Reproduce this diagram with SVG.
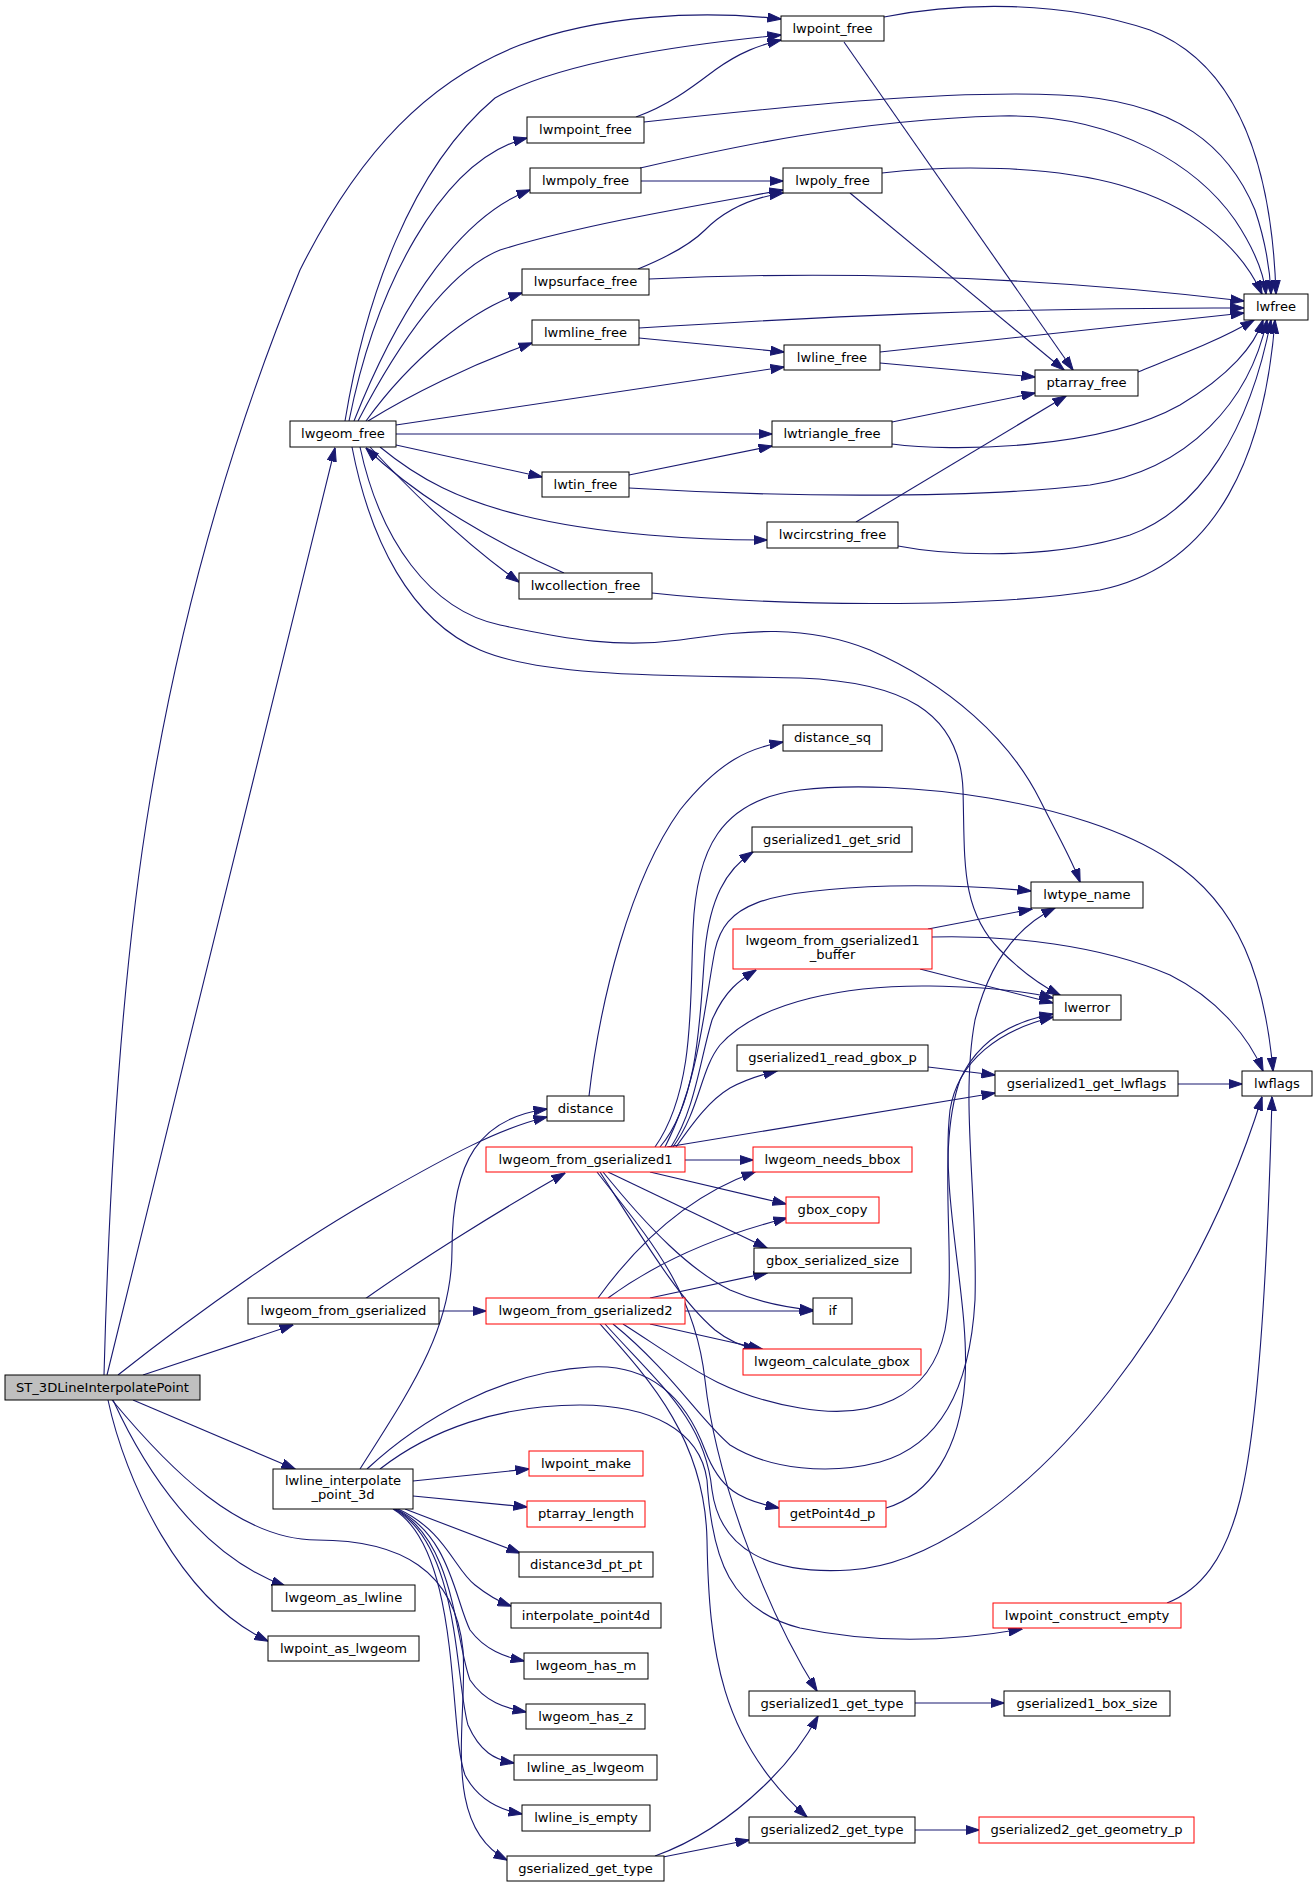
<svg xmlns="http://www.w3.org/2000/svg" width="1316" height="1887" viewBox="0 0 1316 1887">
<style>
.n rect{fill:#fff;stroke:#000;stroke-width:1}
.n.red rect{stroke:#ff0000}
.n.root rect{fill:#bfbfbf}
.n text{font-family:"DejaVu Sans","Liberation Sans",sans-serif;font-size:13.1px;text-anchor:middle;fill:#000}
#edges path{fill:none;stroke:#191970;stroke-width:1.1;marker-end:url(#arr)}
</style>
<defs>
<marker id="arr" markerUnits="userSpaceOnUse" markerWidth="14" markerHeight="10" viewBox="0 0 14 10" refX="13.5" refY="5" orient="auto">
<path d="M0,0.4 L14,5 L0,9.6 z" fill="#191970" stroke="#191970" stroke-width="1"/>
</marker>
</defs>
<rect width="1316" height="1887" fill="#fff"/>
<g id="edges">
<path d="M104,1375 C110,1150 125,950 150,800 C180,620 230,440 300,270 C360,150 430,80 520,45 C600,15 700,10 781,19"/>
<path d="M107,1375 C150,1200 290,630 335,448"/>
<path d="M118,1375 C200,1310 300,1240 380,1195 C450,1155 500,1128 547,1117"/>
<path d="M143,1375 L293,1325"/>
<path d="M133,1400 L295,1469"/>
<path d="M113,1400 C145,1470 200,1555 285,1586"/>
<path d="M108,1400 C125,1480 180,1600 268,1641"/>
<path d="M112,1400 C170,1470 240,1540 317,1540 C400,1540 455,1570 463,1650 C468,1720 440,1825 507,1860"/>
<path d="M365,1299 C420,1260 500,1210 565,1173"/>
<path d="M439,1311 L486,1311"/>
<path d="M360,1469 C410,1390 452,1330 452,1250 C452,1160 480,1118 547,1109"/>
<path d="M413,1481 L529,1469"/>
<path d="M413,1496 L527,1507"/>
<path d="M405,1509 L520,1553"/>
<path d="M398,1509 C445,1530 455,1570 475,1585 C490,1597 500,1602 511,1606"/>
<path d="M396,1509 C450,1535 455,1600 470,1630 C485,1650 505,1657 524,1661"/>
<path d="M395,1509 C455,1540 455,1640 470,1680 C485,1702 505,1708 526,1712"/>
<path d="M394,1509 C460,1545 455,1680 468,1725 C480,1752 495,1760 514,1763"/>
<path d="M393,1509 C462,1550 448,1730 465,1775 C478,1800 500,1810 522,1814"/>
<path d="M367,1469 C420,1420 500,1372 590,1367 C660,1363 690,1410 705,1450 C720,1490 740,1500 779,1508"/>
<path d="M380,1469 C430,1430 500,1405 580,1405 C650,1405 700,1430 707,1480 C712,1560 730,1610 800,1628 C880,1645 960,1640 1022,1629"/>
<path d="M345,421 C365,300 410,170 495,98 C560,62 680,45 781,35"/>
<path d="M349,421 C375,290 440,160 527,138"/>
<path d="M354,421 C390,330 450,220 530,190"/>
<path d="M358,421 C400,340 450,270 500,250 C580,225 700,205 783,190"/>
<path d="M366,421 C410,360 470,310 522,293"/>
<path d="M368,421 C410,395 470,365 532,343"/>
<path d="M396,425 L784,367"/>
<path d="M396,434 L772,434"/>
<path d="M396,445 L542,477"/>
<path d="M380,447 C420,480 460,500 520,515 C600,535 700,540 767,540"/>
<path d="M370,447 C410,490 460,540 519,582"/>
<path d="M564,573 C500,545 420,500 366,448"/>
<path d="M360,447 C380,540 430,610 500,625 C570,640 620,648 680,640 C740,632 800,622 870,650 C950,685 1010,740 1040,800 C1060,840 1072,860 1080,882"/>
<path d="M352,447 C370,540 410,620 480,650 C550,680 700,675 800,678 C900,682 960,710 963,790 C965,860 960,910 1000,950 C1020,970 1040,985 1060,995"/>
<path d="M636,117 C670,105 695,85 715,70 C740,52 760,45 781,40"/>
<path d="M644,122 C800,105 950,90 1060,95 C1180,100 1230,150 1255,210 C1265,240 1270,270 1271,294"/>
<path d="M884,17 C960,2 1060,0 1150,30 C1240,65 1272,170 1276,294"/>
<path d="M844,42 L1073,370"/>
<path d="M641,181 L783,181"/>
<path d="M640,168 C720,150 850,120 1000,116 C1120,113 1200,170 1235,220 C1255,250 1264,275 1266,294"/>
<path d="M882,173 C950,165 1050,165 1120,185 C1190,205 1240,245 1262,294"/>
<path d="M850,193 L1064,370"/>
<path d="M638,269 C665,258 690,245 705,230 C725,210 750,198 783,193"/>
<path d="M649,279 C800,272 1000,272 1244,301"/>
<path d="M639,328 C800,318 1000,307 1244,308"/>
<path d="M639,338 L784,352"/>
<path d="M880,352 L1244,313"/>
<path d="M880,363 L1035,377"/>
<path d="M1138,372 C1180,355 1220,340 1254,320"/>
<path d="M892,422 L1035,393"/>
<path d="M892,444 C950,452 1100,450 1180,405 C1230,375 1255,345 1263,320"/>
<path d="M629,475 L772,446"/>
<path d="M629,488 C760,496 960,500 1090,485 C1190,470 1250,400 1267,320"/>
<path d="M856,522 L1066,396"/>
<path d="M898,546 C950,556 1050,560 1130,535 C1200,510 1250,430 1271,320"/>
<path d="M652,593 C760,605 980,610 1100,590 C1220,565 1265,450 1275,320"/>
<path d="M589,1096 C600,1000 630,880 680,810 C720,760 750,748 783,742"/>
<path d="M928,929 L1032,909"/>
<path d="M932,937 C1010,935 1100,945 1170,975 C1220,1000 1250,1040 1263,1071"/>
<path d="M920,969 L1053,1003"/>
<path d="M928,1067 L995,1075"/>
<path d="M1178,1084 L1242,1084"/>
<path d="M660,1147 C700,1100 700,1010 705,950 C710,900 725,870 753,852"/>
<path d="M665,1147 C700,1080 705,1000 715,950 C725,905 760,890 890,886 C950,885 1000,888 1031,891"/>
<path d="M655,1147 C695,1090 690,1000 693,930 C696,850 720,800 800,790 C900,778 1080,800 1170,860 C1240,905 1265,980 1273,1071"/>
<path d="M671,1147 C695,1110 700,1060 712,1020 C725,990 740,980 756,970"/>
<path d="M673,1147 C700,1110 700,1070 720,1045 C760,1000 850,985 930,986 C990,987 1030,992 1053,998"/>
<path d="M676,1147 C695,1120 710,1100 730,1088 C745,1080 760,1075 777,1071"/>
<path d="M667,1147 L995,1093"/>
<path d="M685,1160 L753,1160"/>
<path d="M650,1172 L786,1204"/>
<path d="M608,1172 L767,1248"/>
<path d="M603,1172 C650,1230 690,1270 730,1290 C760,1303 790,1308 813,1310"/>
<path d="M600,1172 C650,1250 680,1300 715,1330 C730,1342 745,1347 757,1349"/>
<path d="M597,1172 C650,1240 695,1290 705,1380 C715,1470 760,1600 817,1691"/>
<path d="M598,1298 C640,1240 690,1195 755,1172"/>
<path d="M608,1298 C660,1260 720,1235 787,1218"/>
<path d="M650,1298 L767,1273"/>
<path d="M685,1311 L813,1311"/>
<path d="M650,1324 L762,1349"/>
<path d="M600,1324 C650,1380 705,1440 707,1540 C709,1650 720,1740 807,1817"/>
<path d="M605,1324 C660,1385 705,1420 712,1490 C720,1550 770,1575 850,1570 C940,1565 1040,1480 1110,1390 C1180,1300 1230,1200 1262,1097"/>
<path d="M623,1324 C680,1360 720,1395 800,1408 C870,1420 930,1400 945,1330 C958,1260 935,1150 960,1080 C980,1035 1020,1020 1053,1014"/>
<path d="M613,1324 C670,1370 700,1420 730,1445 C770,1470 830,1475 880,1462 C940,1445 970,1390 975,1300 C978,1200 960,1100 975,1020 C990,960 1020,925 1055,908"/>
<path d="M886,1508 C930,1495 960,1450 965,1380 C970,1300 940,1200 950,1110 C958,1060 1000,1030 1053,1017"/>
<path d="M1167,1603 C1200,1590 1225,1560 1240,1500 C1260,1420 1268,1250 1272,1097"/>
<path d="M655,1856 C700,1840 740,1810 770,1780 C790,1760 805,1740 818,1716"/>
<path d="M663,1857 L749,1840"/>
<path d="M915,1703 L1004,1703"/>
<path d="M915,1830 L979,1830"/>
</g>
<g id="ST_3DLineInterpolatePoint" class="n root"><rect x="5" y="1375" width="195" height="25"/><text x="102.5" y="1392">ST_3DLineInterpolatePoint</text></g>
<g id="lwgeom_free" class="n"><rect x="290" y="421" width="106" height="26"/><text x="343" y="438">lwgeom_free</text></g>
<g id="lwpoint_free" class="n"><rect x="781" y="16" width="103" height="25"/><text x="832.5" y="33">lwpoint_free</text></g>
<g id="lwmpoint_free" class="n"><rect x="527" y="117" width="117" height="26"/><text x="585.5" y="134">lwmpoint_free</text></g>
<g id="lwmpoly_free" class="n"><rect x="530" y="168" width="111" height="25"/><text x="585.5" y="185">lwmpoly_free</text></g>
<g id="lwpoly_free" class="n"><rect x="783" y="168" width="99" height="25"/><text x="832.5" y="185">lwpoly_free</text></g>
<g id="lwpsurface_free" class="n"><rect x="522" y="269" width="127" height="26"/><text x="585.5" y="286">lwpsurface_free</text></g>
<g id="lwmline_free" class="n"><rect x="532" y="320" width="107" height="25"/><text x="585.5" y="337">lwmline_free</text></g>
<g id="lwfree" class="n"><rect x="1244" y="294" width="64" height="26"/><text x="1276" y="311">lwfree</text></g>
<g id="lwline_free" class="n"><rect x="784" y="345" width="96" height="25"/><text x="832" y="362">lwline_free</text></g>
<g id="ptarray_free" class="n"><rect x="1035" y="370" width="103" height="26"/><text x="1086.5" y="387">ptarray_free</text></g>
<g id="lwtriangle_free" class="n"><rect x="772" y="421" width="120" height="26"/><text x="832" y="438">lwtriangle_free</text></g>
<g id="lwtin_free" class="n"><rect x="542" y="472" width="87" height="25"/><text x="585.5" y="489">lwtin_free</text></g>
<g id="lwcircstring_free" class="n"><rect x="767" y="522" width="131" height="26"/><text x="832.5" y="539">lwcircstring_free</text></g>
<g id="lwcollection_free" class="n"><rect x="519" y="573" width="133" height="26"/><text x="585.5" y="590">lwcollection_free</text></g>
<g id="distance_sq" class="n"><rect x="783" y="725" width="99" height="26"/><text x="832.5" y="742">distance_sq</text></g>
<g id="gserialized1_get_srid" class="n"><rect x="752" y="827" width="160" height="25"/><text x="832" y="844">gserialized1_get_srid</text></g>
<g id="lwtype_name" class="n"><rect x="1031" y="882" width="112" height="26"/><text x="1087" y="899">lwtype_name</text></g>
<g id="lwgeom_from_gserialized1_buffer" class="n red"><rect x="733" y="929" width="199" height="40"/><text x="832.5" y="945">lwgeom_from_gserialized1</text><text x="832.5" y="959">_buffer</text></g>
<g id="lwerror" class="n"><rect x="1053" y="995" width="68" height="25"/><text x="1087" y="1012">lwerror</text></g>
<g id="gserialized1_read_gbox_p" class="n"><rect x="737" y="1045" width="191" height="26"/><text x="832.5" y="1062">gserialized1_read_gbox_p</text></g>
<g id="gserialized1_get_lwflags" class="n"><rect x="995" y="1071" width="183" height="25"/><text x="1086.5" y="1088">gserialized1_get_lwflags</text></g>
<g id="lwflags" class="n"><rect x="1242" y="1071" width="70" height="25"/><text x="1277" y="1088">lwflags</text></g>
<g id="distance" class="n"><rect x="547" y="1096" width="77" height="25"/><text x="585.5" y="1113">distance</text></g>
<g id="lwgeom_from_gserialized1" class="n red"><rect x="486" y="1147" width="199" height="25"/><text x="585.5" y="1164">lwgeom_from_gserialized1</text></g>
<g id="lwgeom_needs_bbox" class="n red"><rect x="753" y="1147" width="159" height="25"/><text x="832.5" y="1164">lwgeom_needs_bbox</text></g>
<g id="gbox_copy" class="n red"><rect x="786" y="1197" width="93" height="26"/><text x="832.5" y="1214">gbox_copy</text></g>
<g id="gbox_serialized_size" class="n"><rect x="754" y="1248" width="157" height="25"/><text x="832.5" y="1265">gbox_serialized_size</text></g>
<g id="if" class="n"><rect x="813" y="1298" width="39" height="26"/><text x="832.5" y="1315">if</text></g>
<g id="lwgeom_from_gserialized" class="n"><rect x="248" y="1298" width="191" height="26"/><text x="343.5" y="1315">lwgeom_from_gserialized</text></g>
<g id="lwgeom_from_gserialized2" class="n red"><rect x="486" y="1298" width="199" height="26"/><text x="585.5" y="1315">lwgeom_from_gserialized2</text></g>
<g id="lwgeom_calculate_gbox" class="n red"><rect x="743" y="1349" width="178" height="26"/><text x="832" y="1366">lwgeom_calculate_gbox</text></g>
<g id="lwline_interpolate_point_3d" class="n"><rect x="273" y="1469" width="140" height="40"/><text x="343" y="1485">lwline_interpolate</text><text x="343" y="1499">_point_3d</text></g>
<g id="lwpoint_make" class="n red"><rect x="529" y="1451" width="114" height="25"/><text x="586" y="1468">lwpoint_make</text></g>
<g id="getPoint4d_p" class="n red"><rect x="779" y="1501" width="107" height="26"/><text x="832.5" y="1518">getPoint4d_p</text></g>
<g id="ptarray_length" class="n red"><rect x="527" y="1501" width="118" height="26"/><text x="586" y="1518">ptarray_length</text></g>
<g id="distance3d_pt_pt" class="n"><rect x="519" y="1552" width="134" height="25"/><text x="586" y="1569">distance3d_pt_pt</text></g>
<g id="lwgeom_as_lwline" class="n"><rect x="272" y="1585" width="143" height="26"/><text x="343.5" y="1602">lwgeom_as_lwline</text></g>
<g id="interpolate_point4d" class="n"><rect x="511" y="1603" width="150" height="25"/><text x="586" y="1620">interpolate_point4d</text></g>
<g id="lwpoint_construct_empty" class="n red"><rect x="993" y="1603" width="188" height="25"/><text x="1087" y="1620">lwpoint_construct_empty</text></g>
<g id="lwpoint_as_lwgeom" class="n"><rect x="268" y="1636" width="151" height="25"/><text x="343.5" y="1653">lwpoint_as_lwgeom</text></g>
<g id="lwgeom_has_m" class="n"><rect x="524" y="1653" width="124" height="26"/><text x="586" y="1670">lwgeom_has_m</text></g>
<g id="gserialized1_get_type" class="n"><rect x="749" y="1691" width="166" height="25"/><text x="832" y="1708">gserialized1_get_type</text></g>
<g id="gserialized1_box_size" class="n"><rect x="1004" y="1691" width="166" height="25"/><text x="1087" y="1708">gserialized1_box_size</text></g>
<g id="lwgeom_has_z" class="n"><rect x="526" y="1704" width="119" height="25"/><text x="585.5" y="1721">lwgeom_has_z</text></g>
<g id="lwline_as_lwgeom" class="n"><rect x="514" y="1755" width="143" height="25"/><text x="585.5" y="1772">lwline_as_lwgeom</text></g>
<g id="lwline_is_empty" class="n"><rect x="522" y="1805" width="128" height="26"/><text x="586" y="1822">lwline_is_empty</text></g>
<g id="gserialized2_get_type" class="n"><rect x="749" y="1817" width="166" height="26"/><text x="832" y="1834">gserialized2_get_type</text></g>
<g id="gserialized2_get_geometry_p" class="n red"><rect x="979" y="1817" width="215" height="26"/><text x="1086.5" y="1834">gserialized2_get_geometry_p</text></g>
<g id="gserialized_get_type" class="n"><rect x="507" y="1856" width="157" height="25"/><text x="585.5" y="1873">gserialized_get_type</text></g>
</svg>
